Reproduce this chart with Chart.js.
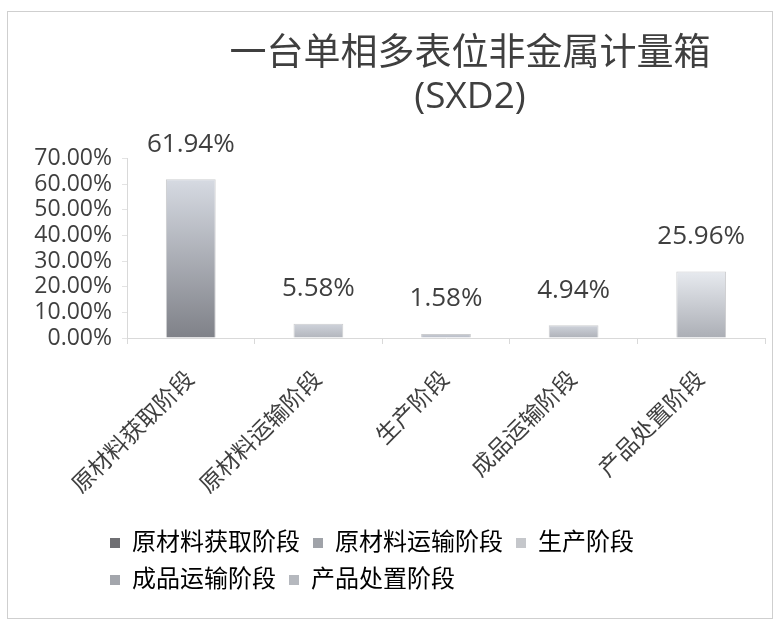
<!DOCTYPE html>
<html>
<head>
<meta charset="utf-8">
<script src="https://cdn.jsdelivr.net/npm/chart.js@4.4.1/dist/chart.umd.min.js"></script>
<style>
  body { margin: 0; background: #fff; }
  #wrap { position: relative; width: 782px; height: 622px; }
  #frame { position: absolute; left: 7px; top: 11px; width: 766px; height: 608px; border: 1px solid #cfcfcf; box-sizing: border-box; }
  #chart { position: absolute; left: 0; top: 0; }
</style>
</head>
<body>
<div id="wrap">
  <div id="frame"></div>
  <canvas id="chart" width="782" height="622"></canvas>
</div>
<script>
// 数据
const categories = ['原材料获取阶段', '原材料运输阶段', '生产阶段', '成品运输阶段', '产品处置阶段'];
const values = [61.94, 5.58, 1.58, 4.94, 25.96];
const yMin = 0, yMax = 70, yStep = 10;

// 灰度渐变（扫描件）
const barTop = ['#d6dae2', '#cfd3db', '#c9cdd6', '#cfd3db', '#e7eaef'];
const barBottom = ['#7f8188', '#b2b5bc', '#b6bac4', '#aeb1b8', '#abaeb5'];
const legendColors = ['#6f6f73', '#a0a3a9', '#c5c7cb', '#a3a6ac', '#b5b8be'];

const FONT = '"Open Sans", "Noto Sans CJK SC", sans-serif';
const TEXT = '#3f3f3f';

// 柱顶数值
const valueLabels = {
  id: 'valueLabels',
  afterDatasetsDraw(chart) {
    const ctx = chart.ctx;
    const meta = chart.getDatasetMeta(0);
    ctx.save();
    ctx.font = '26px ' + FONT;
    ctx.fillStyle = TEXT;
    ctx.textAlign = 'center';
    ctx.textBaseline = 'middle';
    meta.data.forEach((bar, i) => {
      ctx.fillText(values[i].toFixed(2) + '%', bar.x, bar.y - 35);
    });
    ctx.restore();
  }
};

// 标题和图例位置微调
const nudge = {
  id: 'nudge',
  afterLayout(chart) {
    chart.titleBlock.left += 24;
    chart.titleBlock.right += 24;
    chart.legend.left -= 30;
    chart.legend.right -= 30;
  }
};

function barFill(c) {
  const chart = c.chart;
  const i = c.dataIndex;
  if (!chart.chartArea) return barBottom[i];
  const y = chart.scales.y;
  const g = chart.ctx.createLinearGradient(0, y.getPixelForValue(values[i]), 0, y.getPixelForValue(0));
  g.addColorStop(0, barTop[i]);
  g.addColorStop(1, barBottom[i]);
  return g;
}

new Chart(document.getElementById('chart'), {
  type: 'bar',
  data: {
    labels: categories,
    datasets: [{
      data: values,
      backgroundColor: barFill,
      borderColor: 'rgba(110,112,118,0.35)',
      borderWidth: 1,
      barPercentage: 0.39,
      categoryPercentage: 1
    }]
  },
  options: {
    responsive: false,
    animation: false,
    layout: { padding: { left: 20, right: 17, top: 0, bottom: 20 } },
    scales: {
      x: {
        grid: { offset: true, drawOnChartArea: false, color: '#d9d9d9', tickLength: 6 },
        border: { color: '#d9d9d9' },
        ticks: {
          autoSkip: false, maxRotation: 45, minRotation: 45,
          color: TEXT, font: { family: FONT, size: 23 }, padding: 22
        },
        afterFit(scale) { scale.height = 180; }
      },
      y: {
        min: yMin, max: yMax,
        grid: { drawOnChartArea: false, color: '#e3e3e3', tickLength: 5 },
        border: { color: '#d9d9d9' },
        ticks: {
          stepSize: yStep, autoSkip: false, padding: 10,
          color: TEXT, font: { family: FONT, size: 23 },
          callback: v => v.toFixed(2) + '%'
        },
        afterFit(scale) { scale.width = 107; }
      }
    },
    plugins: {
      title: {
        display: true,
        fullSize: false,
        text: ['一台单相多表位非金属计量箱', '(SXD2)'],
        color: TEXT,
        font: { family: FONT, size: 37, weight: 'normal', lineHeight: 1.17 },
        padding: { top: 33, bottom: 39 }
      },
      legend: {
        position: 'bottom',
        align: 'start',
        fullSize: false,
        labels: {
          color: TEXT,
          font: { family: FONT, size: 24 },
          boxWidth: 10, boxHeight: 10, padding: 13,
          generateLabels: () => categories.map((c, i) => ({
            text: c, fillStyle: legendColors[i], strokeStyle: legendColors[i], lineWidth: 0, index: i
          }))
        }
      },
      tooltip: { enabled: false }
    }
  },
  plugins: [valueLabels, nudge]
});
</script>
</body>
</html>
